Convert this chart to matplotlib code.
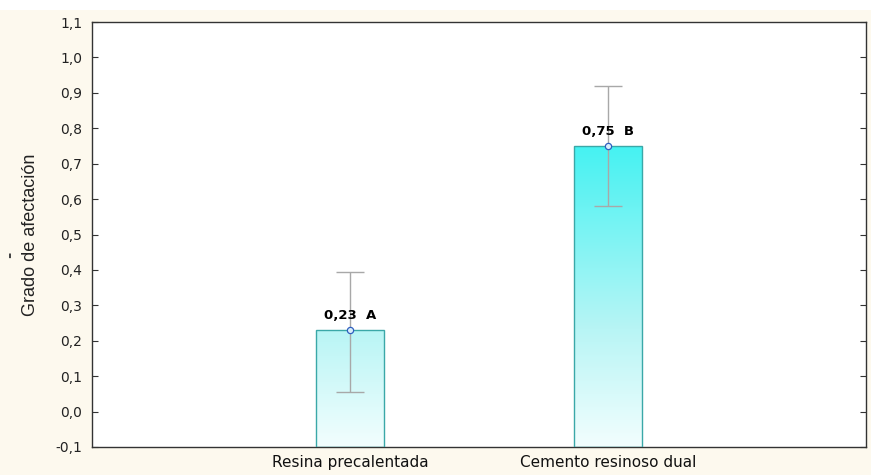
import numpy as np
import matplotlib
matplotlib.use("Agg")
import matplotlib.pyplot as plt
from matplotlib.patches import Rectangle
from matplotlib.ticker import FuncFormatter, MultipleLocator
from matplotlib.colors import LinearSegmentedColormap

# group means, error limits and letter groups
grupos = ["Resina precalentada", "Cemento resinoso dual"]
medias = [0.23, 0.75]
limite_sup = [0.395, 0.92]
limite_inf = [0.055, 0.58]
letras = ["A", "B"]

plt.rcParams['font.family'] = ['DejaVu Sans']

fig = plt.figure(figsize=(8.71, 4.75), dpi=100, facecolor="#fdf9ee")
# thin white strip on top
fig.patches.append(Rectangle((0, 1 - 10 / 475), 1, 10 / 475, transform=fig.transFigure,
                             facecolor="white", edgecolor="none", zorder=0))

ax = fig.add_axes([92 / 871, 28 / 475, 774 / 871, 425 / 475])
ax.set_facecolor("white")

ymin, ymax = -0.1, 1.1
x = np.arange(1, len(grupos) + 1)
ancho = 0.26

# vertical gradient over the whole y range, stronger cyan towards the top
cmap = LinearSegmentedColormap.from_list(
    "cian", [(0, "#f2fefe"), (0.275, "#b8f5f5"), (0.708, "#45f2f2"), (1, "#30f0f0")])
grad = np.linspace(0, 1, 256).reshape(-1, 1)

for xi, m in zip(x, medias):
    rect = Rectangle((xi - ancho / 2, ymin), ancho, m - ymin, facecolor="none",
                     edgecolor="#3aa8a8", linewidth=1.0, zorder=3)
    ax.add_patch(rect)
    im = ax.imshow(grad, extent=(xi - ancho / 2, xi + ancho / 2, ymin, ymax),
                   origin="lower", cmap=cmap, aspect="auto", zorder=2)
    im.set_clip_path(rect)

err = [np.array(medias) - np.array(limite_inf), np.array(limite_sup) - np.array(medias)]
ax.errorbar(x, medias, yerr=err, fmt="none", ecolor="#a8a8a8", elinewidth=1.0,
            capsize=10, capthick=1.0, zorder=4)
ax.plot(x, medias, "o", markersize=4.5, markerfacecolor="#d8eefa",
        markeredgecolor="#3060c0", markeredgewidth=0.9, zorder=5)

for xi, m, l in zip(x, medias, letras):
    txt = f"{m:.2f}".replace(".", ",") + "  " + l
    ax.text(xi, m + 0.022, txt, ha="center", va="bottom", fontsize=9.5,
            fontweight="bold", zorder=6)

ax.set_xlim(0, 3)
ax.set_ylim(ymin, ymax)
ax.set_xticks(x)
ax.set_xticklabels(grupos, fontsize=11, color="#222222")
ax.yaxis.set_major_locator(MultipleLocator(0.1))
ax.yaxis.set_major_formatter(FuncFormatter(lambda v, p: f"{v:.1f}".replace(".", ",").replace("-0,0", "0,0")))
ax.tick_params(axis="y", direction="in", length=4, labelsize=10, right=True, colors="#333333",
               labelcolor="#222222", pad=7)
ax.tick_params(axis="x", direction="in", length=4, pad=6, colors="#111111")
for s in ax.spines.values():
    s.set_color("#333333")
    s.set_linewidth(1.0)

ax.set_ylabel("Grado de afectación", fontsize=13, color="#222222", labelpad=12,
              family=["Liberation Sans", "DejaVu Sans"])
# small stray dash left of the axis title
fig.text(10 / 871, 1 - 255 / 475, "-", rotation=90, fontsize=11, fontweight="bold",
         color="#444444", ha="center", va="center")

fig.savefig("out.png", dpi=100, facecolor=fig.get_facecolor())
